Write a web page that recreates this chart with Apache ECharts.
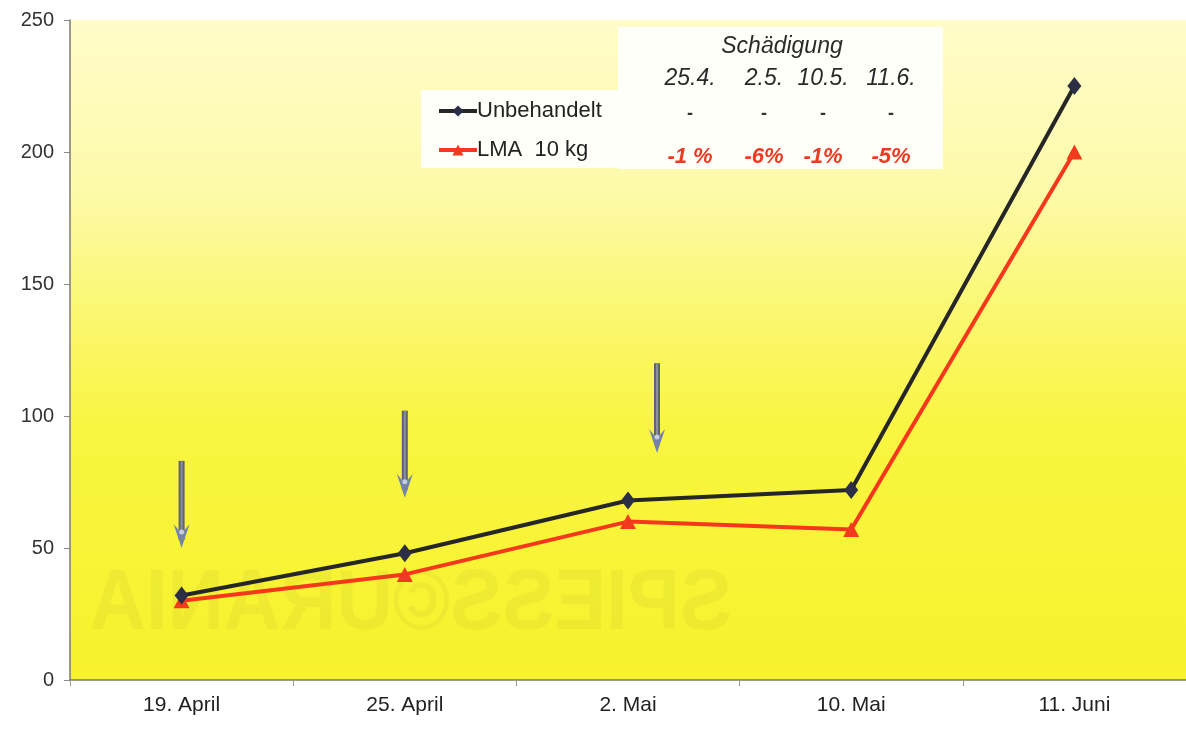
<!DOCTYPE html>
<html>
<head>
<meta charset="utf-8">
<title>Schädigung – Unbehandelt vs. LMA 10 kg</title>
<script src="https://cdn.jsdelivr.net/npm/echarts@6/dist/echarts.min.js"></script>
<style>
  html, body { margin: 0; padding: 0; background: #ffffff; }
  #chart { width: 1186px; height: 730px; }
</style>
</head>
<body>
<div id="chart"></div>
<script>
// Sampling dates on the x axis
const categories = ['19. April', '25. April', '2. Mai', '10. Mai', '11. Juni'];

// Series values
const untreated = [32, 48, 68, 72, 225];
const lma10kg = [30, 40, 60, 57, 200];

// Treatment arrows: [x position in category units, top value, tip value]
const treatments = [
  [0, 83, 50],
  [1, 102, 69],
  [2.13, 120, 86]
];

// Damage table shown in the upper part of the plot
const damageDates = ['25.4.', '2.5.', '10.5.', '11.6.'];
const damageUntreated = ['-', '-', '-', '-'];
const damageLma = ['-1 %', '-6%', '-1%', '-5%'];

// Y-axis ticks
const yMin = 0, yMax = 250, yStep = 50;

const SANS = '"Liberation Sans", Arial, sans-serif';

const chart = echarts.init(document.getElementById('chart'), null, { renderer: 'canvas' });

// Table columns and rows
const colX = [690, 764, 823, 891];
const tableTexts = [];
tableTexts.push({
  type: 'text', x: 782, y: 47, z: 20,
  style: { text: 'Schädigung', font: 'italic 23px ' + SANS, fill: '#2a2a2a', align: 'center', verticalAlign: 'middle' }
});
damageDates.forEach((d, i) => {
  tableTexts.push({
    type: 'text', x: colX[i], y: 79, z: 20,
    style: { text: d, font: 'italic 23px ' + SANS, fill: '#2a2a2a', align: 'center', verticalAlign: 'middle' }
  });
});
damageUntreated.forEach((d, i) => {
  tableTexts.push({
    type: 'text', x: colX[i], y: 114, z: 20,
    style: { text: d, font: 'bold 18px ' + SANS, fill: '#333', align: 'center', verticalAlign: 'middle' }
  });
});
damageLma.forEach((d, i) => {
  tableTexts.push({
    type: 'text', x: colX[i], y: 157, z: 20,
    style: { text: d, font: 'italic bold 22px ' + SANS, fill: '#ee3a22', align: 'center', verticalAlign: 'middle' }
  });
});

const option = {
  backgroundColor: '#ffffff',
  animation: false,
  grid: {
    left: 70, top: 20, width: 1132, height: 660,
    show: true, borderWidth: 0,
    backgroundColor: {
      type: 'linear', x: 0, y: 0, x2: 0, y2: 1,
      colorStops: [
        { offset: 0, color: '#fffcca' },
        { offset: 0.25, color: '#fdfaab' },
        { offset: 0.45, color: '#fbf770' },
        { offset: 0.62, color: '#f9f541' },
        { offset: 1, color: '#f7f22c' }
      ]
    }
  },
  legend: {
    left: 432, top: 95, orient: 'vertical', itemGap: 17,
    itemWidth: 38, itemHeight: 14,
    lineStyle: { width: 4 },
    textStyle: { fontFamily: SANS, fontSize: 22, color: '#222', padding: [0, 0, 0, -5] },
    data: ['Unbehandelt', 'LMA  10 kg'],
    z: 25
  },
  xAxis: [{
    type: 'category', data: categories, boundaryGap: true,
    axisLine: { lineStyle: { color: '#7c7c6a', width: 1.5 } },
    axisTick: { show: true, length: 6, lineStyle: { color: '#9a9a8a' } },
    axisLabel: { fontFamily: SANS, fontSize: 21, color: '#222', margin: 15 },
    splitLine: { show: false }
  }, {
    type: 'value', min: -0.5, max: 4.5, show: false
  }],
  yAxis: {
    type: 'value', min: yMin, max: yMax, interval: yStep,
    axisLine: { show: true, onZero: false, lineStyle: { color: '#7a7a7a', width: 1.5 } },
    axisTick: { show: true, length: 6, lineStyle: { color: '#888' } },
    axisLabel: { fontFamily: SANS, fontSize: 20, color: '#333', margin: 16 },
    splitLine: { show: false }
  },
  graphic: [
    // faint bleed-through lettering
    {
      type: 'text', x: 732, y: 562, scaleX: -1, scaleY: 1.1, z: 1, silent: true,
      style: { text: 'SPIESS©URANIA', font: 'bold 78px ' + SANS, fill: 'rgba(110,100,30,0.06)' }
    },
    // white panel behind legend and table
    { type: 'rect', shape: { x: 421, y: 90, width: 200, height: 78 }, style: { fill: '#fffffa' }, z: 15 },
    { type: 'rect', shape: { x: 618, y: 27, width: 325, height: 142 }, style: { fill: '#fffffa' }, z: 15 }
  ].concat(tableTexts),
  series: [
    {
      name: 'Unbehandelt', type: 'line', data: untreated,
      lineStyle: { color: '#262626', width: 4 },
      itemStyle: { color: '#2b2e45' },
      symbol: 'diamond', symbolSize: [14, 18], z: 6
    },
    {
      name: 'LMA  10 kg', type: 'line', data: lma10kg,
      lineStyle: { color: '#f5381c', width: 4 },
      itemStyle: { color: '#f23a1c' },
      symbol: 'triangle', symbolSize: [16, 15], z: 5
    },
    {
      // treatment arrows
      name: 'arrows', type: 'custom', xAxisIndex: 1, yAxisIndex: 0,
      data: treatments, z: 4, silent: true,
      renderItem: function (params, api) {
        const top = api.coord([api.value(0), api.value(1)]);
        const tip = api.coord([api.value(0), api.value(2)]);
        const x = top[0];
        const headH = 24, headW = 8;
        return {
          type: 'group',
          children: [
            { type: 'rect', shape: { x: x - 3, y: top[1], width: 6, height: tip[1] - top[1] - 8 },
              style: { fill: '#5e6470' } },
            { type: 'rect', shape: { x: x - 1, y: top[1], width: 2, height: tip[1] - top[1] - 10 },
              style: { fill: '#8b919a' } },
            { type: 'polygon', shape: { points: [
                [x - headW, tip[1] - headH], [x - 3, tip[1] - headH + 6], [x + 3, tip[1] - headH + 6],
                [x + headW, tip[1] - headH], [x, tip[1]]
              ] },
              style: { fill: '#7384a8' } },
            { type: 'circle', shape: { cx: x, cy: tip[1] - headH + 8, r: 2.5 },
              style: { fill: '#c8cee0' } }
          ]
        };
      }
    }
  ]
};

chart.setOption(option);
</script>
</body>
</html>
